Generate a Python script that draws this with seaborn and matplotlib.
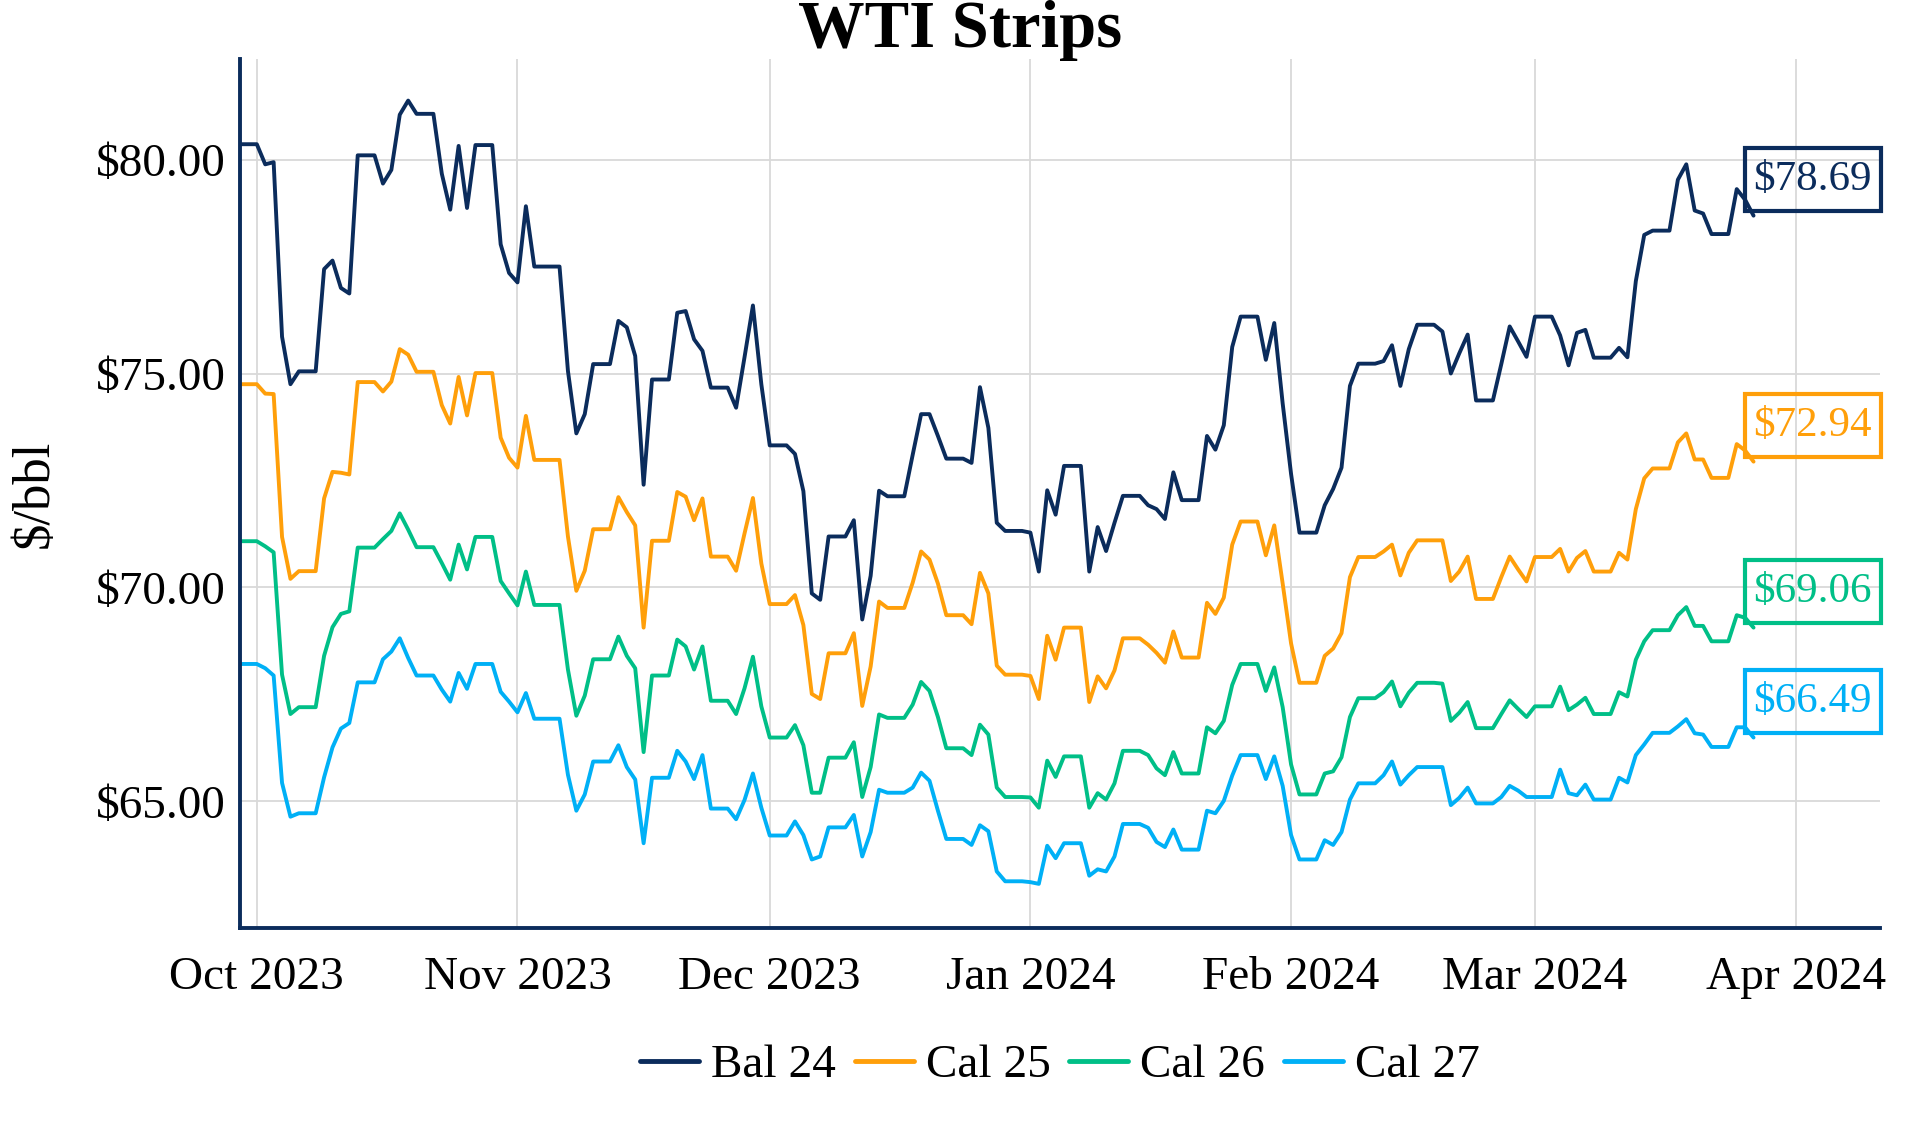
import pandas as pd
import matplotlib
matplotlib.use("Agg")
import matplotlib.pyplot as plt
import matplotlib.dates as mdates
from matplotlib.lines import Line2D
from matplotlib.patches import Rectangle
from matplotlib.transforms import IdentityTransform
from matplotlib.ticker import FuncFormatter, MultipleLocator
import seaborn as sns

# trading days (weekends get carried forward below, like the source chart)
trade_dates = [
    "2023-09-29", "2023-10-02", "2023-10-03", "2023-10-04", "2023-10-05", "2023-10-06",
    "2023-10-09", "2023-10-10", "2023-10-11", "2023-10-12", "2023-10-13",
    "2023-10-16", "2023-10-17", "2023-10-18", "2023-10-19", "2023-10-20",
    "2023-10-23", "2023-10-24", "2023-10-25", "2023-10-26", "2023-10-27",
    "2023-10-30", "2023-10-31", "2023-11-01", "2023-11-02", "2023-11-03",
    "2023-11-06", "2023-11-07", "2023-11-08", "2023-11-09", "2023-11-10",
    "2023-11-13", "2023-11-14", "2023-11-15", "2023-11-16", "2023-11-17",
    "2023-11-20", "2023-11-21", "2023-11-22", "2023-11-23", "2023-11-24",
    "2023-11-27", "2023-11-28", "2023-11-29", "2023-11-30", "2023-12-01",
    "2023-12-04", "2023-12-05", "2023-12-06", "2023-12-07", "2023-12-08",
    "2023-12-11", "2023-12-12", "2023-12-13", "2023-12-14", "2023-12-15",
    "2023-12-18", "2023-12-19", "2023-12-20", "2023-12-21", "2023-12-22",
    "2023-12-25", "2023-12-26", "2023-12-27", "2023-12-28", "2023-12-29",
    "2024-01-01", "2024-01-02", "2024-01-03", "2024-01-04", "2024-01-05",
    "2024-01-08", "2024-01-09", "2024-01-10", "2024-01-11", "2024-01-12",
    "2024-01-15", "2024-01-16", "2024-01-17", "2024-01-18", "2024-01-19",
    "2024-01-22", "2024-01-23", "2024-01-24", "2024-01-25", "2024-01-26",
    "2024-01-29", "2024-01-30", "2024-01-31", "2024-02-01", "2024-02-02",
    "2024-02-05", "2024-02-06", "2024-02-07", "2024-02-08", "2024-02-09",
    "2024-02-12", "2024-02-13", "2024-02-14", "2024-02-15", "2024-02-16",
    "2024-02-19", "2024-02-20", "2024-02-21", "2024-02-22", "2024-02-23",
    "2024-02-26", "2024-02-27", "2024-02-28", "2024-02-29", "2024-03-01",
    "2024-03-04", "2024-03-05", "2024-03-06", "2024-03-07", "2024-03-08",
    "2024-03-11", "2024-03-12", "2024-03-13", "2024-03-14", "2024-03-15",
    "2024-03-18", "2024-03-19", "2024-03-20", "2024-03-21", "2024-03-22",
    "2024-03-25", "2024-03-26", "2024-03-27",
]

bal_24 = [
    80.36, 79.89, 79.94, 75.86, 74.75, 75.05,
    77.44, 77.64, 77.00, 76.87, 80.10,
    79.44, 79.76, 81.05, 81.38, 81.07,
    79.67, 78.83, 80.32, 78.87, 80.34,
    78.02, 77.35, 77.13, 78.91, 77.50,
    77.50, 75.06, 73.60, 74.05, 75.22,
    76.23, 76.08, 75.41, 72.40, 74.86,
    76.42, 76.46, 75.80, 75.53, 74.67,
    74.20, 75.38, 76.59, 74.75, 73.32,
    73.12, 72.25, 69.86, 69.71, 71.19,
    71.57, 69.25, 70.27, 72.26, 72.13,
    73.10, 74.05, 74.05, 73.54, 73.01,
    72.91, 74.68, 73.73, 71.51, 71.32,
    71.28, 70.37, 72.27, 71.70, 72.84,
    70.37, 71.41, 70.85, 71.51, 72.14,
    71.92, 71.83, 71.60, 72.69, 72.04,
    73.54, 73.22, 73.79, 75.62, 76.33,
    75.32, 76.18, 74.30, 72.65, 71.28,
    71.92, 72.30, 72.80, 74.71, 75.23,
    75.29, 75.66, 74.71, 75.57, 76.14,
    75.98, 75.00, 75.47, 75.91, 74.37,
    75.22, 76.10, 75.75, 75.39, 76.33,
    75.89, 75.19, 75.95, 76.02, 75.37,
    75.60, 75.38, 77.16, 78.24, 78.34,
    79.53, 79.89, 78.81, 78.74, 78.26,
    79.31, 79.06, 78.69,
]

cal_25 = [
    74.75, 74.53, 74.52, 71.18, 70.20, 70.38,
    72.08, 72.70, 72.68, 72.64, 74.80,
    74.58, 74.81, 75.57, 75.44, 75.04,
    74.26, 73.83, 74.92, 74.02, 75.01,
    73.50, 73.03, 72.80, 74.01, 72.98,
    72.98, 71.19, 69.92, 70.39, 71.36,
    72.11, 71.76, 71.45, 69.06, 71.09,
    72.23, 72.12, 71.57, 72.08, 70.72,
    70.39, 71.26, 72.09, 70.56, 69.61,
    69.82, 69.12, 67.51, 67.39, 68.46,
    68.93, 67.23, 68.15, 69.67, 69.52,
    70.11, 70.84, 70.65, 70.09, 69.35,
    69.14, 70.34, 69.86, 68.17, 67.96,
    67.93, 67.39, 68.87, 68.31, 69.06,
    67.32, 67.92, 67.64, 68.06, 68.81,
    68.66, 68.47, 68.24, 68.97, 68.36,
    69.64, 69.38, 69.76, 71.00, 71.54,
    70.75, 71.45, 70.09, 68.69, 67.77,
    68.40, 68.57, 68.93, 70.24, 70.71,
    70.84, 71.00, 70.28, 70.81, 71.10,
    71.10, 70.15, 70.37, 70.72, 69.73,
    70.24, 70.72, 70.42, 70.14, 70.71,
    70.90, 70.37, 70.69, 70.85, 70.37,
    70.81, 70.65, 71.83, 72.55, 72.78,
    73.39, 73.60, 72.99, 72.99, 72.56,
    73.35, 73.20, 72.94,
]

cal_26 = [
    71.08, 70.96, 70.82, 67.96, 67.04, 67.20,
    68.40, 69.07, 69.38, 69.44, 70.93,
    71.13, 71.32, 71.73, 71.35, 70.94,
    70.57, 70.18, 71.00, 70.42, 71.18,
    70.15, 69.86, 69.58, 70.37, 69.59,
    69.59, 68.08, 67.00, 67.47, 68.32,
    68.85, 68.40, 68.11, 66.15, 67.94,
    68.78, 68.62, 68.08, 68.62, 67.35,
    67.04, 67.64, 68.38, 67.22, 66.49,
    66.78, 66.31, 65.20, 65.20, 66.02,
    66.38, 65.10, 65.80, 67.03, 66.95,
    67.26, 67.79, 67.58, 66.97, 66.24,
    66.08, 66.79, 66.56, 65.32, 65.10,
    65.09, 64.85, 65.95, 65.57, 66.05,
    64.85, 65.19, 65.04, 65.42, 66.18,
    66.08, 65.77, 65.61, 66.15, 65.65,
    66.73, 66.59, 66.88, 67.72, 68.21,
    67.58, 68.13, 67.20, 65.86, 65.16,
    65.65, 65.70, 66.03, 66.97, 67.41,
    67.55, 67.80, 67.22, 67.54, 67.77,
    67.75, 66.88, 67.07, 67.32, 66.71,
    67.04, 67.36, 67.16, 66.97, 67.22,
    67.68, 67.13, 67.26, 67.42, 67.04,
    67.55, 67.45, 68.31, 68.74, 69.00,
    69.35, 69.54, 69.10, 69.10, 68.74,
    69.35, 69.29, 69.06,
]

cal_27 = [
    68.21, 68.11, 67.94, 65.43, 64.64, 64.72,
    65.56, 66.26, 66.70, 66.83, 67.78,
    68.32, 68.50, 68.81, 68.35, 67.94,
    67.61, 67.33, 68.00, 67.63, 68.21,
    67.56, 67.33, 67.08, 67.53, 66.93,
    66.93, 65.62, 64.78, 65.16, 65.93,
    66.31, 65.80, 65.51, 64.02, 65.55,
    66.18, 65.93, 65.52, 66.08, 64.83,
    64.58, 65.03, 65.65, 64.85, 64.20,
    64.53, 64.21, 63.64, 63.71, 64.39,
    64.68, 63.71, 64.28, 65.27, 65.20,
    65.32, 65.67, 65.48, 64.78, 64.12,
    63.98, 64.44, 64.30, 63.36, 63.13,
    63.11, 63.07, 63.96, 63.67, 64.02,
    63.26, 63.41, 63.36, 63.71, 64.47,
    64.38, 64.05, 63.93, 64.34, 63.87,
    64.78, 64.72, 65.01, 65.60, 66.08,
    65.52, 66.05, 65.36, 64.21, 63.64,
    64.09, 63.98, 64.28, 65.04, 65.42,
    65.61, 65.93, 65.39, 65.61, 65.80,
    65.80, 64.91, 65.08, 65.32, 64.95,
    65.10, 65.36, 65.25, 65.10, 65.10,
    65.74, 65.19, 65.14, 65.39, 65.04,
    65.55, 65.44, 66.08, 66.33, 66.60,
    66.75, 66.92, 66.59, 66.56, 66.27,
    66.73, 66.73, 66.49,
]

strip_names = ["Bal 24", "Cal 25", "Cal 26", "Cal 27"]
strip_colors = ["#0B2C5C", "#FF9F0A", "#00BF87", "#00B0F6"]

# Build the table: daily calendar, prices held flat over weekends/holidays
prices = pd.DataFrame(
    {"Bal 24": bal_24, "Cal 25": cal_25, "Cal 26": cal_26, "Cal 27": cal_27},
    index=pd.to_datetime(trade_dates),
)
daily = prices.asfreq("D").ffill()
long_df = daily.reset_index(names="date").melt(id_vars="date", var_name="strip", value_name="price")

sns.set_theme(style="white")
plt.rcParams["font.family"] = ["Liberation Serif", "DejaVu Serif"]
plt.rcParams["text.color"] = "black"

fig = plt.figure(figsize=(19.2, 11.28), dpi=100)
ax = fig.add_axes([0.125, 0.177, 0.854, 0.771])

sns.lineplot(data=long_df, x="date", y="price", hue="strip", hue_order=strip_names,
             palette=strip_colors, linewidth=2.8, ax=ax, legend=False)

# Axes styling
ax.set_xlim(pd.Timestamp("2023-09-29"), pd.Timestamp("2024-04-11"))
ax.set_ylim(62.03, 82.36)
ax.xaxis.set_major_locator(mdates.MonthLocator())
ax.xaxis.set_major_formatter(mdates.DateFormatter("%b %Y"))
ax.yaxis.set_major_locator(MultipleLocator(5))
ax.yaxis.set_major_formatter(FuncFormatter(lambda v, pos: f"${v:.2f}"))
ax.grid(True, color="#d9d9d9", linewidth=1.3)
ax.set_axisbelow(True)
ax.tick_params(axis="both", length=0, labelsize=34, colors="black")
ax.tick_params(axis="x", pad=20)
ax.tick_params(axis="y", pad=10)
ax.set_xlabel("")
ax.set_ylabel("")
for side in ["top", "right"]:
    ax.spines[side].set_visible(False)
for side in ["left", "bottom"]:
    ax.spines[side].set_color("#0B2C5C")
    ax.spines[side].set_linewidth(2.8)

# Last-value labels, boxed afterwards
last_date = prices.index[-1]
value_labels = []
for name, color in zip(strip_names, strip_colors):
    last_val = prices[name].iloc[-1]
    t = ax.annotate(f"${last_val:.2f}", xy=(last_date, last_val), xytext=(0, 26),
                    textcoords="offset points", ha="left", va="center", fontsize=31,
                    color=color, annotation_clip=False)
    value_labels.append((t, color))

fig.text(0.5, 0.958, "WTI Strips", fontsize=48, fontweight="bold", ha="center",
         va="baseline", color="black")
fig.text(0.018, 0.5625, "$/bbl", fontsize=38, rotation=90, ha="center", va="center",
         color="black")

handles = [Line2D([0], [0], color=c, linewidth=3.5) for c in strip_colors]
leg = ax.legend(handles, strip_names, loc="center", bbox_to_anchor=(0.5, -0.158), ncol=4,
                frameon=False, fontsize=34, handlelength=1.25, handletextpad=0.25,
                columnspacing=0.4)
for txt in leg.get_texts():
    txt.set_color("black")

# box each label: a bit wider than the text, taller than it like the original
fig.canvas.draw()
renderer = fig.canvas.get_renderer()
for t, color in value_labels:
    ext = t.get_window_extent(renderer)
    cy = (ext.y0 + ext.y1) / 2
    box = Rectangle((ext.x0 - 9, cy - 31.5), ext.width + 18, 63, fill=False,
                    edgecolor=color, linewidth=3.0, transform=IdentityTransform())
    fig.add_artist(box)

fig.savefig("out.png", dpi=100)
